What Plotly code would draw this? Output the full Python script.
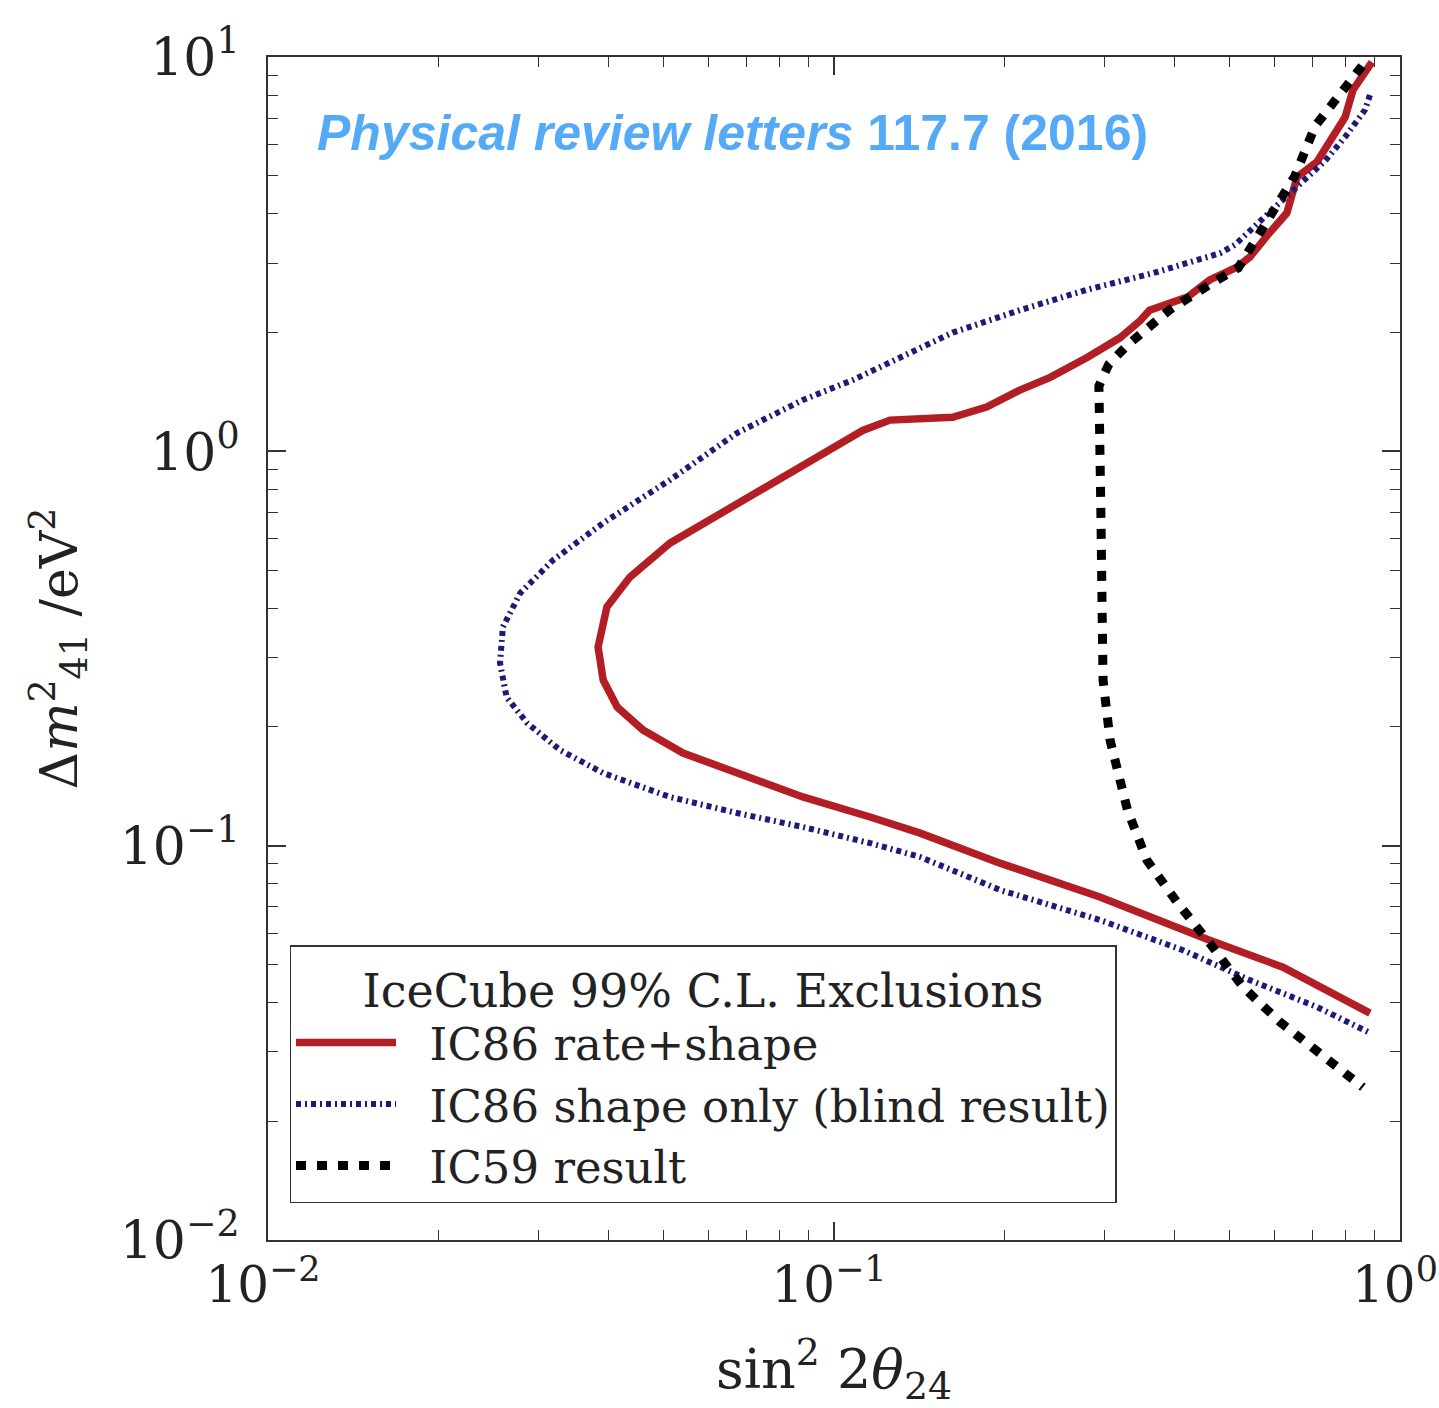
import plotly.graph_objects as go

# IC86 rate+shape (solid red)
red_x = [0.892, 0.826, 0.80, 0.751, 0.713, 0.658, 0.631, 0.582, 0.543, 0.515,
         0.461, 0.421, 0.361, 0.348, 0.330, 0.320, 0.280, 0.241, 0.213, 0.186,
         0.162, 0.1256, 0.1124, 0.0881, 0.0674, 0.0513, 0.0436, 0.0397, 0.0383,
         0.0391, 0.0414, 0.046, 0.0541, 0.0674, 0.0881, 0.1158, 0.142, 0.1965,
         0.295, 0.461, 0.621, 0.885]
red_y = [9.71, 8.25, 7.04, 6.05, 5.42, 4.96, 4.02, 3.52, 3.11, 2.93,
         2.72, 2.46, 2.28, 2.15, 2.00, 1.94, 1.73, 1.54, 1.43, 1.295,
         1.22, 1.20, 1.13, 0.923, 0.739, 0.585, 0.480, 0.403, 0.319,
         0.263, 0.2246, 0.1964, 0.1717, 0.1528, 0.1329, 0.1182, 0.1076, 0.0903,
         0.0741, 0.0576, 0.0492, 0.0376]

# IC86 shape only (blind result), navy dash-dot
blue_x = [0.885, 0.867, 0.80, 0.737, 0.626, 0.568, 0.511, 0.481, 0.366, 0.280,
          0.213, 0.162, 0.124, 0.108, 0.0881, 0.0674, 0.0513, 0.0391, 0.0319,
          0.0279, 0.0260, 0.0257, 0.0264, 0.0287, 0.0328, 0.0391, 0.0513, 0.0674,
          0.0881, 0.1158, 0.142, 0.1965, 0.295, 0.4137, 0.543, 0.713, 0.885]
blue_y = [8.01, 7.34, 6.27, 5.45, 4.39, 3.84, 3.34, 3.18, 2.83, 2.57,
          2.28, 2.00, 1.675, 1.517, 1.35, 1.113, 0.846, 0.658, 0.530,
          0.437, 0.3585, 0.2904, 0.238, 0.2046, 0.1748, 0.1528, 0.1329, 0.121,
          0.1115, 0.1015, 0.0936, 0.0772, 0.0648, 0.0543, 0.0456, 0.039, 0.0335]

# IC59 result (black dotted)
black_x = [0.857, 0.759, 0.708, 0.652, 0.585, 0.518, 0.469, 0.391, 0.330, 0.306,
           0.2938, 0.294, 0.2963, 0.2975, 0.2988, 0.3074, 0.330, 0.357, 0.4036,
           0.461, 0.528, 0.614, 0.731, 0.860]
black_y = [9.49, 7.60, 6.68, 4.99, 3.84, 2.92, 2.69, 2.28, 1.86, 1.665,
           1.464, 1.068, 0.669, 0.4196, 0.263, 0.1853, 0.1231, 0.0919, 0.0719,
           0.0566, 0.0438, 0.0357, 0.0294, 0.0244]

tick_vals = [0.01, 0.1, 1, 10]
tick_text = ["10<sup>−2</sup>", "10<sup>−1</sup>", "10<sup>0</sup>", "10<sup>1</sup>"]

serif = "DejaVu Serif, Liberation Serif, serif"
pad = "\u00a0\u00a0"

fig = go.Figure()
fig.add_trace(go.Scatter(x=red_x, y=red_y, mode="lines", name=pad + "IC86 rate+shape",
                         line=dict(color="#b21e24", width=7.5)))
fig.add_trace(go.Scatter(x=blue_x, y=blue_y, mode="lines",
                         name=pad + "IC86 shape only (blind result)",
                         line=dict(color="#1c1c78", width=6, dash="5px,4px,2px,4px")))
fig.add_trace(go.Scatter(x=black_x, y=black_y, mode="lines", name=pad + "IC59 result",
                         line=dict(color="black", width=9, dash="10px,11px")))

axis_common = dict(
    type="log", showgrid=False, zeroline=False, automargin=False,
    showline=True, linecolor="#333", linewidth=2, mirror="allticks",
    ticks="inside", ticklen=18, tickwidth=1.5, tickcolor="#333",
    minor=dict(ticks="inside", ticklen=10, tickwidth=1, tickcolor="#333", dtick="D1"),
    tickmode="array", tickvals=tick_vals, ticktext=tick_text,
    ticklabeloverflow="allow",
)

fig.update_xaxes(axis_common, range=[-2, 0], ticklabelshift=-5,
                 tickfont=dict(family=serif, size=50, color="#222"),
                 title=dict(text="sin<sup>2</sup> 2<i>θ</i><sub>24</sub>",
                            font=dict(family=serif, size=54, color="#222"), standoff=44))
fig.update_yaxes(axis_common, range=[-2, 1], ticklabelstandoff=16,
                 tickfont=dict(family=serif, size=52, color="#222"),
                 title=dict(text="Δ<i>m</i><sup>2</sup><sub>41</sub> /eV<sup>2</sup>",
                            font=dict(family=serif, size=52, color="#222"), standoff=26))

fig.add_annotation(
    x=0.0415, y=0.936, xref="paper", yref="paper", xanchor="left", yanchor="middle",
    text="<b><i>Physical review letters</i> 117.7 (2016)</b>", showarrow=False,
    font=dict(family="Liberation Sans, Arial, sans-serif", size=50, color="#55aaf8"),
)

fig.update_layout(
    width=1439, height=1408,
    margin=dict(l=268, r=39, t=57, b=168),
    plot_bgcolor="white", paper_bgcolor="white",
    legend=dict(
        x=0.019, y=0.249, xanchor="left", yanchor="top",
        bgcolor="white", bordercolor="#333", borderwidth=1.5,
        font=dict(family=serif, size=45, color="#222"),
        title=dict(text="IceCube 99% C.L. Exclusions", side="top center",
                   font=dict(family=serif, size=46, color="#222")),
        itemwidth=100,
    ),
    showlegend=True,
)

fig.write_html("out.html", config={"displayModeBar": False},
               post_script="document.body.style.margin='0';"
                           "document.body.style.overflow='hidden';")
